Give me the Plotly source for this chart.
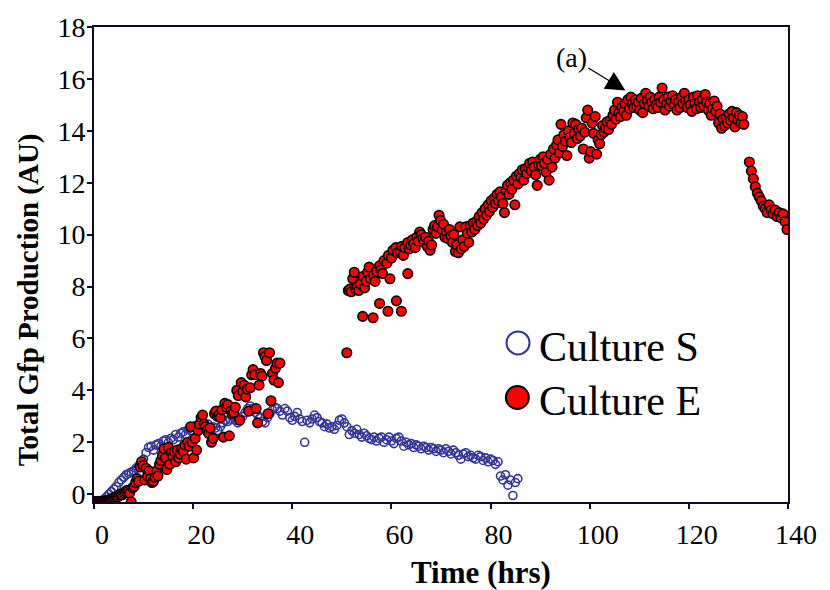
import plotly.graph_objects as go

# Culture S: total GFP production over time (open circles)
s_time = [
    0.0, 0.5, 1.0, 1.5, 2.0, 2.5, 3.0, 3.5, 4.0, 4.5,
    5.0, 5.5, 6.0, 6.5, 7.0, 7.5, 8.0, 8.5, 9.0, 9.5,
    10.0, 10.5, 11.0, 11.5, 12.0, 12.5, 13.0, 13.5, 14.0, 14.5,
    15.0, 15.5, 16.0, 16.5, 17.0, 17.5, 18.0, 18.5, 19.0, 19.5,
    20.0, 20.5, 21.0, 21.5, 22.0, 22.5, 23.0, 23.5, 24.0, 24.5,
    25.0, 25.5, 26.0, 26.5, 27.0, 27.5, 28.0, 28.5, 29.0, 29.5,
    30.0, 30.5, 31.0, 31.5, 32.0, 32.5, 33.0, 33.5, 34.0, 34.5,
    35.0, 35.5, 36.0, 36.5, 37.0, 37.5, 38.0, 38.5, 39.0, 39.5,
    40.0, 40.5, 41.0, 41.5, 42.0, 42.5, 43.0, 43.5, 44.0, 44.5,
    45.0, 45.5, 46.0, 46.5, 47.0, 47.5, 48.0, 48.5, 49.0, 49.5,
    50.0, 50.5, 51.0, 51.5, 52.0, 52.5, 53.0, 53.5, 54.0, 54.5,
    55.0, 55.5, 56.0, 56.5, 57.0, 57.5, 58.0, 58.5, 59.0, 59.5,
    60.0, 60.5, 61.0, 61.5, 62.0, 62.5, 63.0, 63.5, 64.0, 64.5,
    65.0, 65.5, 66.0, 66.5, 67.0, 67.5, 68.0, 68.5, 69.0, 69.5,
    70.0, 70.5, 71.0, 71.5, 72.0, 72.5, 73.0, 73.5, 74.0, 74.5,
    75.0, 75.5, 76.0, 76.5, 77.0, 77.5, 78.0, 78.5, 79.0, 79.5,
    80.0, 80.5, 81.0, 81.5, 82.0, 82.5, 83.0, 83.5, 84.0, 84.5,
    85.0, 85.5,
]
s_gfp = [
    -0.25, -0.25, -0.25, -0.24, -0.2, -0.1, 0.0, 0.1, 0.2, 0.3,
    0.45, 0.55, 0.65, 0.75, 0.8, 0.85, 0.9, 1.0, 1.1, 1.2,
    1.35, 1.6, 1.8, 1.85, 1.7, 1.9, 1.95, 1.85, 2.05, 2.1,
    2.0, 2.15, 2.1, 2.3, 2.2, 2.35, 2.4, 2.3, 2.5, 2.45,
    2.6, 2.65, 2.55, 2.7, 2.6, 2.55, 2.7, 2.5, 2.6, 2.55,
    2.45, 2.6, 2.75, 2.85, 2.8, 2.9, 3.0, 2.85, 2.75, 2.9,
    3.0, 3.15, 3.3, 3.4, 3.3, 3.15, 3.05, 2.95, 2.8, 2.75,
    2.95, 3.1, 3.25, 3.35, 3.3, 3.2, 3.05, 3.3, 3.2, 2.95,
    2.85, 3.0, 3.15, 2.9, 2.8, 2.0, 2.85, 2.75, 2.9, 3.05,
    2.95, 2.8, 2.75, 2.6, 2.7, 2.55, 2.6, 2.5, 2.65, 2.85,
    2.9, 2.75, 2.6, 2.3, 2.45, 2.35, 2.5, 2.3, 2.2, 2.35,
    2.25, 2.15, 2.1, 2.2, 2.05, 2.15, 2.2, 2.0, 2.1, 2.2,
    2.05, 1.95, 2.15, 2.2, 2.05, 1.85, 2.0, 1.9, 1.95, 1.8,
    1.9, 1.85, 1.75, 1.85, 1.8, 1.7, 1.8, 1.75, 1.65, 1.75,
    1.7, 1.6, 1.75, 1.65, 1.55, 1.7, 1.6, 1.5, 1.35, 1.55,
    1.6, 1.45, 1.5, 1.4, 1.35, 1.5, 1.45, 1.3, 1.4, 1.25,
    1.35, 1.3, 1.15, 1.25, 0.7, 0.55, 0.75, 0.35, 0.55, -0.05,
    0.45, 0.6,
]

# Culture E: total GFP production over time (filled circles)
e_time = [
    0.0, 0.3, 0.6, 0.9, 1.2, 1.5, 1.8, 2.1, 2.4, 2.7,
    3.0, 3.3, 3.6, 3.9, 4.2, 4.5, 4.8, 5.1, 5.4, 5.7,
    6.0, 6.3, 6.6, 6.9, 7.2, 7.5, 7.8, 8.1, 8.4, 8.7,
    9.0, 9.3, 9.6, 9.9, 10.2, 10.5, 10.8, 11.1, 11.4, 11.7,
    12.0, 12.3, 12.6, 12.9, 13.2, 13.5, 13.8, 14.1, 14.4, 14.7,
    15.0, 15.3, 15.6, 15.9, 16.2, 16.5, 16.8, 17.1, 17.4, 17.7,
    18.0, 18.3, 18.6, 18.9, 19.2, 19.5, 19.8, 20.1, 20.4, 20.7,
    21.0, 21.3, 21.6, 21.9, 22.2, 22.5, 22.8, 23.1, 23.4, 23.7,
    24.0, 24.3, 24.6, 24.9, 25.2, 25.5, 25.8, 26.1, 26.4, 26.7,
    27.0, 27.3, 27.6, 27.9, 28.2, 28.5, 28.8, 29.1, 29.4, 29.7,
    30.0, 30.3, 30.6, 30.9, 31.2, 31.5, 31.8, 32.1, 32.4, 32.7,
    33.0, 33.3, 33.6, 33.9, 34.2, 34.5, 34.8, 35.1, 35.4, 35.7,
    36.0, 36.3, 36.6, 36.9, 37.2, 37.5,
    51.0, 51.3, 51.6, 51.9, 52.2, 52.5, 52.8, 53.1, 53.4, 53.7,
    54.2, 54.3, 54.6, 54.9, 55.2, 55.5, 55.8, 56.3, 56.4, 56.7,
    57.0, 57.6, 57.6, 57.9, 58.2, 58.5, 59.3, 59.1, 59.4, 59.7,
    60.0, 60.3, 61.0, 60.9, 61.2, 62.0, 61.8, 62.1, 62.4, 62.7,
    63.3, 63.3, 63.6, 63.9, 64.2, 64.5, 64.8, 65.1, 65.4, 65.7,
    66.0, 66.3, 66.6, 66.9, 67.2, 67.5, 67.8, 68.1, 68.4, 68.7,
    69.0, 69.3, 69.6, 69.9, 70.2, 70.5, 70.8, 71.1, 71.4, 71.7,
    72.0, 72.3, 72.6, 72.9, 73.2, 73.5, 73.8, 74.1, 74.4, 74.7,
    75.0, 75.3, 75.6, 75.9, 76.2, 76.5, 76.8, 77.1, 77.4, 77.7,
    78.0, 78.3, 78.6, 78.9, 79.2, 79.5, 79.8, 80.1, 80.4, 80.7,
    81.0, 81.3, 81.6, 81.9, 82.2, 82.5, 82.8, 83.1, 83.4, 83.7,
    84.0, 84.3, 84.6, 84.9, 85.2, 85.5, 85.8, 86.1, 86.4, 86.7,
    87.0, 87.3, 87.6, 87.9, 88.2, 88.5, 88.8, 89.1, 89.4, 89.7,
    90.0, 90.3, 90.6, 90.9, 91.2, 91.5, 91.8, 92.1, 92.4, 92.7,
    93.0, 93.3, 93.6, 93.9, 94.2, 94.5, 94.8, 95.1, 95.4, 95.7,
    96.0, 96.3, 96.6, 96.9, 97.2, 97.5, 97.8, 98.1, 98.4, 98.7,
    99.0, 99.3, 99.6, 99.9, 100.2, 100.5, 100.8, 101.1, 101.4, 101.7,
    102.0, 102.3, 102.6, 102.9, 103.2, 103.5, 103.8, 104.1, 104.4, 104.7,
    105.0, 105.3, 105.6, 105.9, 106.2, 106.5, 106.8, 107.1, 107.4, 107.7,
    108.0, 108.3, 108.6, 108.9, 109.2, 109.5, 109.8, 110.1, 110.4, 110.7,
    111.0, 111.3, 111.6, 111.9, 112.2, 112.5, 112.8, 113.1, 113.4, 113.7,
    114.0, 114.3, 114.6, 114.9, 115.2, 115.5, 115.8, 116.1, 116.4, 116.7,
    117.0, 117.3, 117.6, 117.9, 118.2, 118.5, 118.8, 119.1, 119.4, 119.7,
    120.0, 120.3, 120.6, 120.9, 121.2, 121.5, 121.8, 122.1, 122.4, 122.7,
    123.0, 123.3, 123.6, 123.9, 124.2, 124.5, 124.8, 125.1, 125.4, 125.7,
    126.0, 126.3, 126.6, 126.9, 127.2, 127.5, 127.8, 128.1, 128.4, 128.7,
    129.0, 129.3, 129.6, 129.9, 130.2, 130.5, 130.8, 131.1,
    132.2, 132.6, 133.0, 133.4, 133.8, 134.2, 134.6, 135.0, 135.4, 135.8,
    136.2, 136.6, 137.0, 137.4, 137.8, 138.2, 138.6, 139.0, 139.4, 139.8,
]
e_gfp = [
    -0.28, -0.28, -0.28, -0.27, -0.28, -0.27, -0.28, -0.26, -0.27, -0.25,
    -0.22, -0.2, -0.18, -0.15, -0.12, -0.08, -0.1, -0.04, 0.0, -0.02,
    0.05, 0.1, 0.15, 0.12, 0.05, -0.3, 0.25, 0.3, 0.45, 0.6,
    0.5, 1.05, 1.25, 1.1, 0.55, 1.0, 0.7, 0.9, 0.6, 0.45,
    0.5, 0.65, 0.9, 0.7, 1.15, 1.3, 1.5, 1.75, 1.4, 0.95,
    1.8, 1.15, 1.6, 1.45, 1.65, 1.25, 1.7, 1.4, 1.55, 1.75,
    1.65, 1.9, 1.35, 2.0, 1.85, 2.6, 2.0, 1.4, 2.15, 1.7,
    2.45, 2.7, 2.95, 3.05, 2.7, 2.6, 2.45, 2.35, 2.55, 2.0,
    2.15, 3.1, 3.2, 3.0, 3.05, 2.95, 3.25, 2.2, 3.5, 3.35,
    3.45, 2.25, 3.2, 3.1, 3.15, 3.35, 4.0, 3.8, 2.85, 4.3,
    3.95, 4.2, 3.75, 4.05, 3.2, 4.1, 4.6, 4.8, 4.6, 3.3,
    2.75, 4.2, 4.65, 4.55, 5.45, 5.3, 5.15, 3.1, 5.45, 3.6,
    4.65, 4.4, 4.85, 5.05, 4.3, 5.05,
    5.45, 7.85, 7.9, 7.8, 8.3, 8.55, 7.9, 8.0, 7.85, 8.1,
    6.85, 8.4, 7.95, 8.2, 8.55, 8.75, 8.3, 6.8, 8.45, 8.2,
    8.6, 7.35, 8.8, 8.65, 8.5, 9.0, 7.05, 8.9, 9.2, 8.3,
    9.1, 9.4, 7.45, 9.5, 9.3, 7.05, 9.35, 9.55, 9.2, 9.5,
    8.5, 9.7, 9.45, 9.6, 9.8, 9.65, 9.5, 9.9, 9.75, 10.1,
    10.0, 9.85, 9.7, 9.9, 9.55, 9.75, 9.4, 9.6, 10.2, 10.35,
    10.05, 10.3, 10.75, 10.55, 10.2, 10.4, 9.9, 10.1, 9.85, 10.2,
    9.95, 9.7, 10.0, 9.35, 9.6, 9.3, 10.3, 9.45, 9.8, 9.55,
    10.3, 10.05, 9.7, 10.35, 10.1, 10.45, 10.2, 10.5, 10.35, 10.7,
    10.45, 10.85, 10.6, 11.0, 10.75, 11.15, 10.9, 11.3, 11.05, 11.4,
    11.2, 11.55, 11.3, 11.65, 11.45, 11.2, 10.85, 11.7, 11.9, 11.55,
    12.0, 11.75, 12.1, 11.15, 12.25, 11.95, 12.35, 12.2, 12.5, 12.1,
    12.55, 12.35, 12.6, 12.75, 12.45, 12.8, 12.6, 12.3, 11.9, 12.7,
    12.9, 12.65, 13.0, 12.75, 12.4, 12.9, 12.1, 13.1, 12.6, 13.3,
    12.95, 13.45, 13.65, 13.15, 14.25, 13.4, 13.85, 13.6, 13.05, 14.0,
    13.75, 13.55, 14.3, 13.9, 14.25, 13.7, 14.05, 13.8, 14.1, 13.3,
    13.95, 14.5, 14.8, 12.95, 13.2, 14.3, 13.9, 14.55, 13.1, 13.65,
    13.5, 13.85, 14.2, 13.95, 14.1, 14.35, 14.05, 14.4, 14.25, 14.6,
    14.8, 14.45, 15.1, 14.7, 14.55, 14.9, 14.75, 15.05, 14.6, 15.2,
    14.85, 15.3, 15.05, 14.9, 15.2, 14.95, 15.1, 14.8, 15.25, 14.7,
    15.05, 15.45, 15.15, 14.95, 15.3, 15.1, 14.85, 15.2, 15.0, 14.9,
    15.3, 15.1, 15.65, 15.2, 14.8, 15.05, 15.3, 14.95, 15.15, 15.35,
    15.0, 15.2, 14.8, 15.1, 14.9, 15.3, 15.05, 15.45, 15.15, 14.9,
    15.2, 15.0, 14.75, 15.3, 15.05, 14.85, 15.35, 15.1, 14.9, 15.2,
    14.95, 15.4, 15.1, 14.8, 15.05, 14.6, 14.85, 15.15, 14.75, 14.95,
    14.3, 14.65, 14.1, 14.45, 14.2, 14.5, 14.3, 14.65, 14.4, 14.75,
    14.5, 14.15, 14.7, 14.4, 14.6, 14.3, 14.55, 14.25,
    12.8, 12.45, 12.15, 11.85, 11.6, 11.45, 11.3, 11.1, 11.0, 10.85,
    11.15, 10.95, 10.8, 10.95, 10.7, 10.85, 10.65, 10.8, 10.5, 10.2,
]

x_ticks = [0, 20, 40, 60, 80, 100, 120, 140]
y_ticks = [0, 2, 4, 6, 8, 10, 12, 14, 16, 18]

SERIF = "Liberation Serif, Times New Roman, serif"
AXIS_COLOR = "#0a0a24"
BLUE = "#333399"
RED = "#ff0000"

fig = go.Figure()

fig.add_trace(go.Scatter(
    x=s_time, y=s_gfp, mode="markers", name="Culture S",
    marker=dict(symbol="circle-open", size=8, color=BLUE,
                line=dict(width=1.6, color=BLUE)),
    showlegend=False,
))
fig.add_trace(go.Scatter(
    x=e_time, y=e_gfp, mode="markers", name="Culture E",
    marker=dict(symbol="circle", size=9.5, color=RED,
                line=dict(width=1.6, color="black")),
    showlegend=False,
))

axis_common = dict(
    showgrid=False, zeroline=False,
    showline=True, linecolor=AXIS_COLOR, linewidth=2, mirror=True,
    ticks="outside", ticklen=5, tickwidth=1.5, tickcolor=AXIS_COLOR,
    tickfont=dict(family=SERIF, size=28, color="black"),
)

fig.update_xaxes(range=[0, 140], tickvals=x_ticks,
                 ticklabelstandoff=1, ticklabelshift=8, **axis_common)
fig.update_yaxes(range=[-0.3, 18], tickvals=y_ticks,
                 ticklabelstandoff=-4, **axis_common)

# Legend keys drawn as fixed-size circles beside their labels
legend_keys = [
    dict(x=0.611, y=0.335, fill="rgba(0,0,0,0)", line=BLUE, label="Culture S", ty=0.326),
    dict(x=0.610, y=0.220, fill=RED, line="black", label="Culture E", ty=0.212),
]
shapes = []
annotations = []
for k in legend_keys:
    shapes.append(dict(
        type="circle", xref="paper", yref="paper",
        xsizemode="pixel", ysizemode="pixel",
        xanchor=k["x"], yanchor=k["y"],
        x0=-11.5, x1=11.5, y0=-11.5, y1=11.5,
        fillcolor=k["fill"], line=dict(color=k["line"], width=2),
        layer="above",
    ))
    annotations.append(dict(
        xref="paper", yref="paper", x=0.638, y=k["ty"],
        xanchor="left", yanchor="middle", showarrow=False,
        text=k["label"], font=dict(family=SERIF, size=42, color="black"),
    ))

# Axis titles
annotations.append(dict(
    xref="paper", yref="paper", x=0.558, y=-0.148,
    xanchor="center", yanchor="middle", showarrow=False,
    text="<b>Time (hrs)</b>", font=dict(family=SERIF, size=31, color="black"),
))
annotations.append(dict(
    xref="paper", yref="paper", x=-0.095, y=0.425,
    xanchor="center", yanchor="middle", showarrow=False, textangle=-90,
    text="<b>Total Gfp Production (AU)</b>",
    font=dict(family=SERIF, size=29, color="black"),
))

# Arrow marking the start of the plateau
annotations.append(dict(
    x=107.2, y=15.55, xref="x", yref="y",
    text="(a)", showarrow=True, ax=-54, ay=-33,
    arrowhead=2, arrowsize=3, arrowwidth=1.3, arrowcolor="black",
    font=dict(family=SERIF, size=28, color="black"),
))

fig.update_layout(
    width=830, height=590,
    margin=dict(l=94, r=42, t=24, b=88),
    paper_bgcolor="white", plot_bgcolor="white",
    shapes=shapes, annotations=annotations,
    showlegend=False,
)

fig.write_html("out.html")
